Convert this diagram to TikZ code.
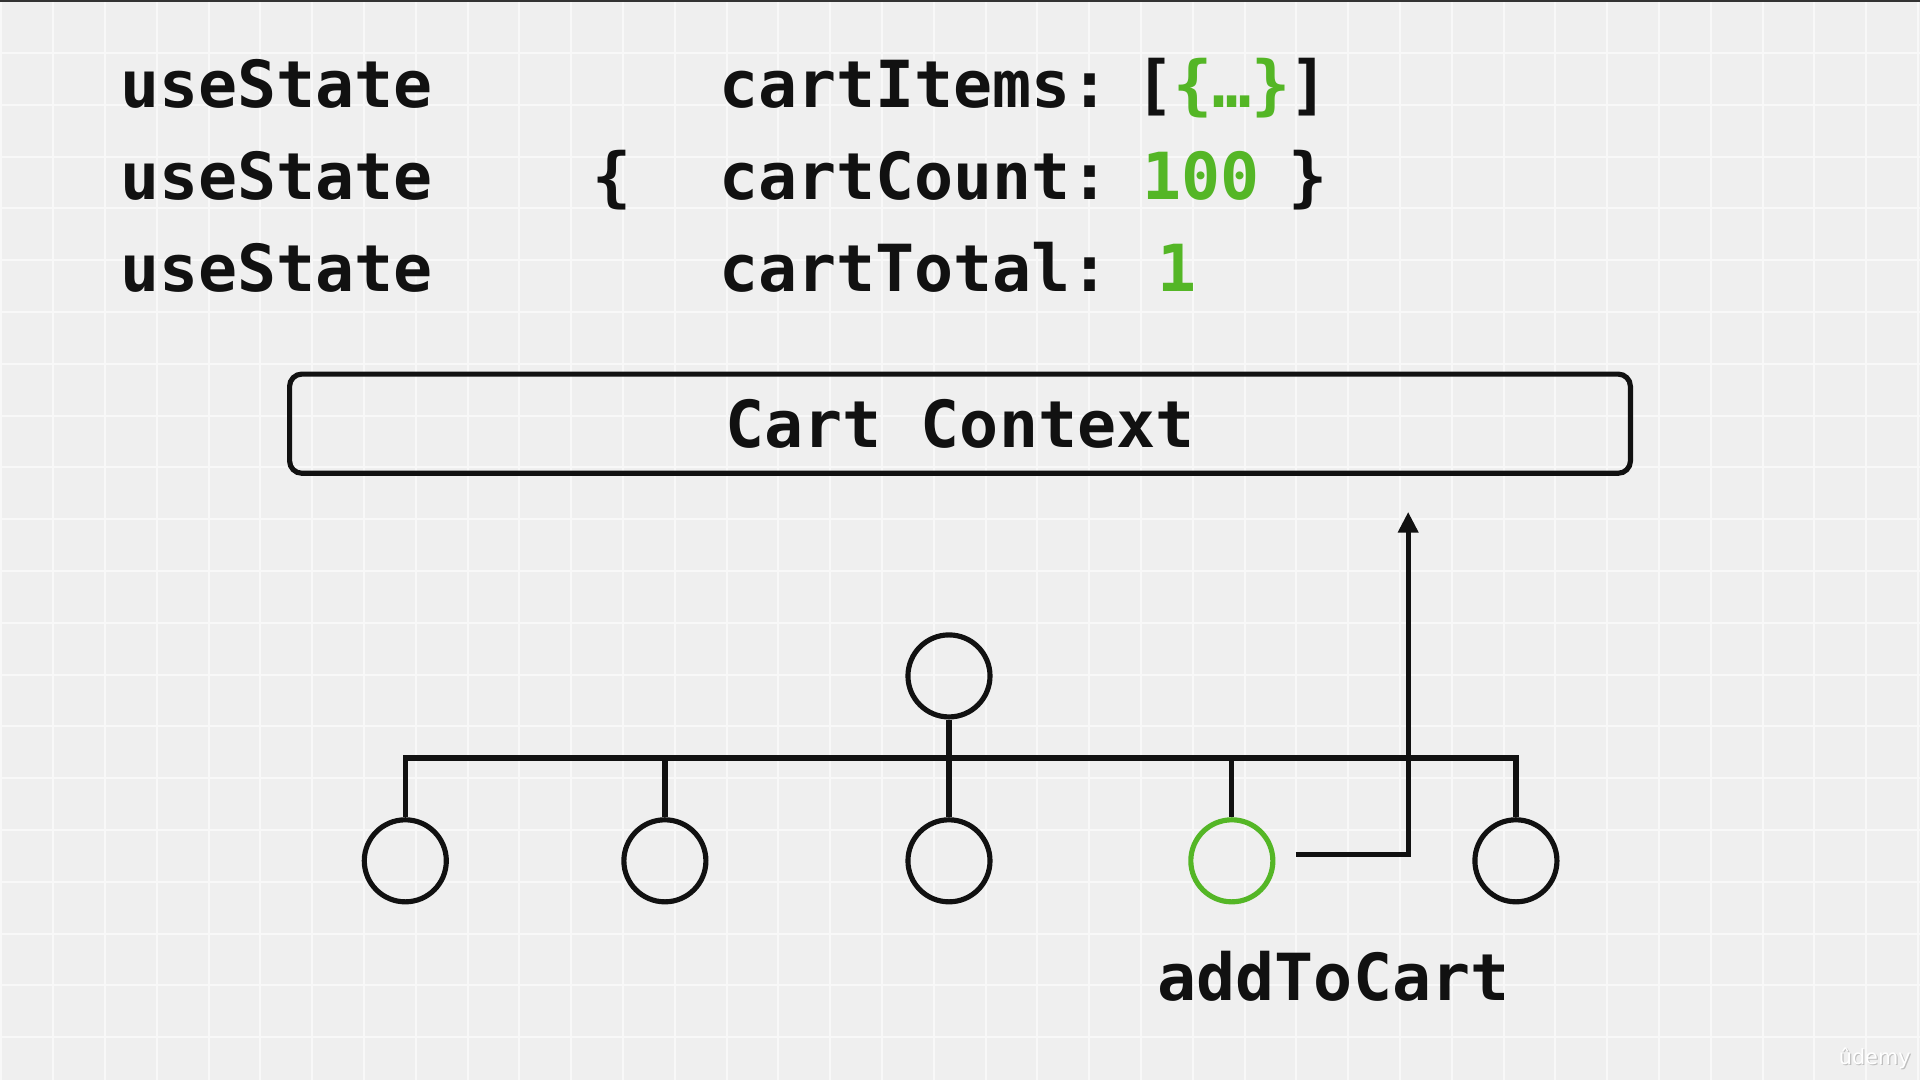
\documentclass[tikz,border=0pt]{standalone}
\usepackage{fontspec}
\newfontfamily\codefont{DejaVu Sans Mono}
\newfontfamily\wmfont{DejaVu Sans}
\usetikzlibrary{arrows.meta}
\definecolor{bgcol}{RGB}{239,239,239}
\definecolor{gridcol}{RGB}{248,248,248}
\definecolor{codegreen}{RGB}{84,182,38}
\definecolor{ink}{RGB}{17,17,17}
\begin{document}
\begin{tikzpicture}[x=1pt,y=-1pt,
  codetext/.style={font=\codefont\bfseries\fontsize{53}{60}\selectfont, text=ink, inner sep=0pt, anchor=base},
  greentext/.style={codetext, text=codegreen},
  tnode/.style={circle, draw=ink, line width=4.2pt, minimum size=67pt, inner sep=0pt},
  gnode/.style={tnode, draw=codegreen},
  link/.style={draw=ink, line width=4.3pt},
  ctxbox/.style={draw=ink, line width=4.2pt, rounded corners=10pt, minimum width=1095pt, minimum height=81pt, inner sep=0pt, font=\codefont\bfseries\fontsize{53}{60}\selectfont, text=ink}
]
\useasboundingbox (0,0) rectangle (1568,882);
\fill[bgcol] (0,0) rectangle (1568,882);
\foreach \i in {0,...,37} \draw[gridcol, line width=1.6pt] ({1.2+42.3*\i},0) -- ({1.2+42.3*\i},882);
\foreach \j in {0,...,20} \draw[gridcol, line width=1.6pt] (0,{1.0+42.3*\j}) -- (1568,{1.0+42.3*\j});
\fill[black!80] (0,0) rectangle (1568,2);

% code rows
\node[codetext] (us1) at (226,88) {useState};
\node[codetext] (us2) at (226,163) {useState};
\node[codetext] (us3) at (226,238) {useState};

\node[codetext] (lbrace) at (500,163) {\{};
\node[codetext] (ci) at (747,88) {cartItems:};
\node[codetext] (lbrack) at (943,88) {[};
\node[greentext] (obj) at (1006,88) {\{…\}};
\node[codetext] (rbrack) at (1069,88) {]};

\node[codetext] (cc) at (747,163) {cartCount:};
\node[greentext] (cnt) at (981,163) {100};
\node[codetext] (rbrace) at (1068,163) {\}};

\node[codetext] (ct) at (747,238) {cartTotal:};
\node[greentext] (tot) at (961,238) {1};

% context box
\node[ctxbox] (ctx) at (784,346) {Cart Context};

% tree
\node[tnode] (top) at (775,552) {};
\node[tnode] (c1) at (331,703) {};
\node[tnode] (c2) at (543,703) {};
\node[tnode] (c3) at (775,703) {};
\node[gnode] (c4) at (1006,703) {};
\node[tnode] (c5) at (1238,703) {};
\coordinate (bus) at (0,619);

\draw[link] (c1.north) -- (c1.north |- bus) -- (c5.north |- bus) -- (c5.north);
\draw[link] (top.south) -- (c3.north);
\draw[link] (c2.north) -- (c2.north |- bus);
\draw[link] (c4.north) -- (c4.north |- bus);

\coordinate (arrstart) at (1058,698);
\coordinate (arrtip) at (1150,418);
\draw[link, -{Triangle[length=17pt,width=16pt]}] (arrstart) -| (arrtip);

\node[codetext] (add) at (1089,817) {addToCart};

% watermark
\node[font=\wmfont\fontsize{17}{17}\selectfont, text=black!25, inner sep=0pt] (wmshadow) at (1532,865) {ûdemy};
\node[font=\wmfont\fontsize{17}{17}\selectfont, text=white, inner sep=0pt] (wm) at (1531,864) {ûdemy};
\end{tikzpicture}
\end{document}
